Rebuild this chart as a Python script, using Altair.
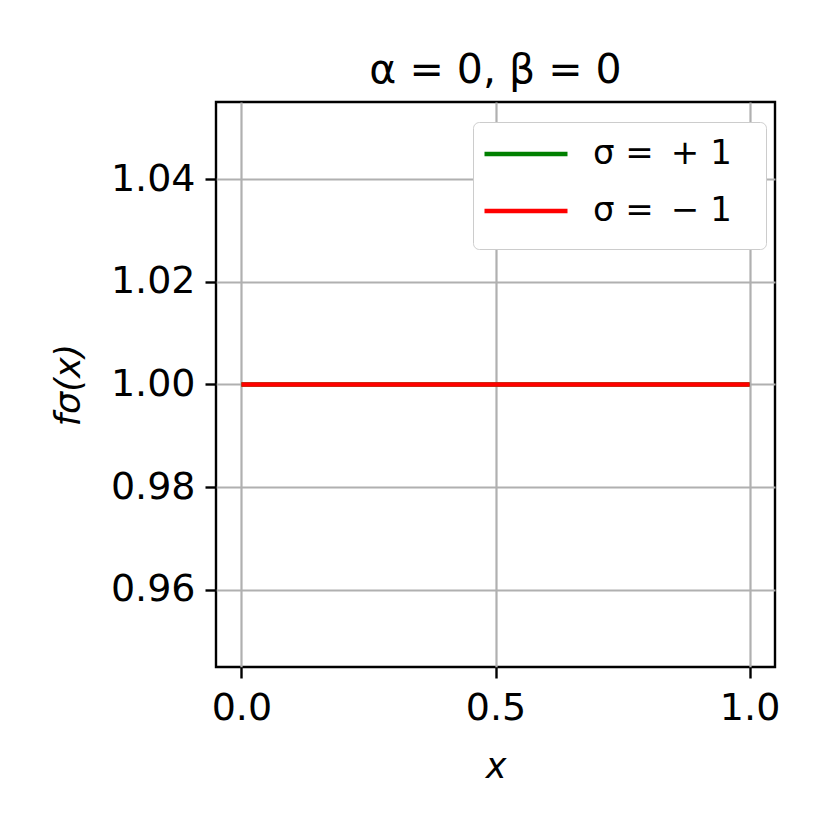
import altair as alt
import pandas as pd

x_vals = [0.0, 1.0]
y_plus = [1.0, 1.0]
y_minus = [1.0, 1.0]
series_names = ["σ =\u2002+ 1\u2800", "σ =\u2002− 1\u2800"]
series_colors = ["#008000", "#ff0000"]
x_ticks = [0.0, 0.5, 1.0]
y_ticks = [0.96, 0.98, 1.00, 1.02, 1.04]

rows = []
for xv, yv in zip(x_vals, y_plus):
    rows.append({"x": xv, "y": yv, "s": series_names[0], "o": 0})
for xv, yv in zip(x_vals, y_minus):
    rows.append({"x": xv, "y": yv, "s": series_names[1], "o": 1})
df = pd.DataFrame(rows)

FONT = "DejaVu Sans"

chart = alt.Chart(df).mark_line(strokeWidth=4.4, clip=True).encode(
    x=alt.X("x:Q", scale=alt.Scale(domain=[-0.05, 1.05], nice=False, zero=False),
            axis=alt.Axis(values=x_ticks, format=".1f", title="x", titleFontStyle="italic",
                          titleFontWeight="normal", titleFontSize=35, titleFont=FONT,
                          titleX=279.5, titleY=110, titleBaseline="alphabetic",
                          labelFontSize=38, labelFont=FONT, labelColor="black",
                          labelPadding=11, tickSize=11, tickWidth=2.4, tickColor="black",
                          domain=False, grid=True, gridColor="#b0b0b0", gridWidth=2.2,
                          labelFlush=False)),
    y=alt.Y("y:Q", scale=alt.Scale(domain=[0.945, 1.055], nice=False, zero=False),
            axis=alt.Axis(values=y_ticks, format=".2f", title="fσ(x)", titleFontStyle="italic",
                          titleFontWeight="normal", titleFontSize=35, titleFont=FONT,
                          titleX=-148, titleY=282.5, titleAngle=270, titleAlign="center",
                          titleBaseline="middle",
                          labelFontSize=38, labelFont=FONT, labelColor="black",
                          labelPadding=10, tickSize=11, tickWidth=2.4, tickColor="black",
                          domain=False, grid=True, gridColor="#b0b0b0", gridWidth=2.2,
                          labelFlush=False)),
    color=alt.Color("s:N", scale=alt.Scale(domain=series_names, range=series_colors),
                    legend=alt.Legend(title=" ", titleOrient="bottom", titleFontSize=4,
                                      titlePadding=8,
                                      orient="none", legendX=257, legendY=20,
                                      symbolType="M-2,0L2,0", symbolSize=1722,
                                      symbolOffset=21,
                                      symbolStrokeWidth=4.4, labelFontSize=34,
                                      labelFont=FONT, labelColor="black", labelOffset=44,
                                      labelLimit=400,
                                      padding=9, strokeColor="#cccccc", fillColor="white",
                                      cornerRadius=6, rowPadding=17)),
    order=alt.Order("o:Q"),
).properties(
    width=559, height=565,
    background="white",
    title=alt.TitleParams("α = 0, β = 0", fontSize=41, font=FONT, fontWeight="normal",
                          color="black", anchor="middle", offset=10),
    autosize=alt.AutoSizeParams(type="none"),
    padding={"left": 208, "top": 94, "right": 47, "bottom": 155},
).configure_view(stroke="black", strokeWidth=2.4)

chart.save("out.html", embed_options={"renderer": "svg", "actions": False})
